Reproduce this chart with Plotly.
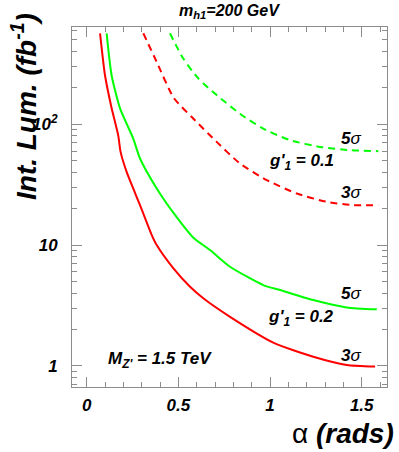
import math
import plotly.graph_objects as go

# 3 sigma / 5 sigma discovery curves, g'1 = 0.2 (solid) and g'1 = 0.1 (dashed)
alpha_3s_02 = [0.073, 0.100, 0.136, 0.172, 0.185, 0.218, 0.291, 0.355, 0.382, 0.472,
               0.564, 0.636, 0.782, 1.018, 1.236, 1.418, 1.573]
lum_3s_02 = [565, 254, 136, 81, 59, 40.3, 21.4, 12.1, 10.0, 6.45,
             4.52, 3.63, 2.55, 1.56, 1.19, 1.02, 0.99]

alpha_5s_02 = [0.109, 0.136, 0.182, 0.254, 0.291, 0.382, 0.491, 0.582, 0.673, 0.782,
               0.963, 1.055, 1.236, 1.418, 1.582]
lum_5s_02 = [565, 254, 135, 76, 52, 29.4, 17.0, 11.5, 9.1, 6.62,
             4.67, 4.25, 3.51, 3.05, 2.94]

alpha_3s_01 = [0.309, 0.382, 0.475, 0.582, 0.709, 0.836, 0.982, 1.146, 1.309, 1.454, 1.591]
lum_3s_01 = [565, 327, 165, 111, 71.4, 47.3, 34.5, 26.7, 22.8, 21.4, 21.4]

alpha_5s_01 = [0.454, 0.527, 0.609, 0.709, 0.836, 0.963, 1.109, 1.273, 1.436, 1.591]
lum_5s_01 = [565, 349, 239, 174, 122, 92, 73.8, 64.9, 61, 59.8]

ytick_vals = [1, 10, 100]
ytick_text = ["1", "10", "10<sup>2</sup>"]
xtick_vals = [0, 0.5, 1, 1.5]
xtick_text = ["0", "0.5", "1", "1.5"]

RED = "#ff0000"
GREEN = "#00ff00"
GREY = "#8c8c8c"
FONT = "Liberation Sans"
bi = dict(family=FONT, weight="bold", style="italic", color="black")

fig = go.Figure()
fig.add_trace(go.Scatter(x=alpha_3s_02, y=lum_3s_02, mode="lines",
                         line=dict(color=RED, width=2, shape="spline", smoothing=0.6)))
fig.add_trace(go.Scatter(x=alpha_5s_02, y=lum_5s_02, mode="lines",
                         line=dict(color=GREEN, width=2, shape="spline", smoothing=0.6)))
fig.add_trace(go.Scatter(x=alpha_3s_01, y=lum_3s_01, mode="lines",
                         line=dict(color=RED, width=2, dash="7px,5px", shape="spline", smoothing=0.6)))
fig.add_trace(go.Scatter(x=alpha_5s_01, y=lum_5s_01, mode="lines",
                         line=dict(color=GREEN, width=2, dash="7px,5px", shape="spline", smoothing=0.6)))

minor_y = [0.7, 0.8, 0.9] + [v * m for m in (1, 10) for v in range(2, 10)] + [200, 300, 400, 500, 600]

W, H, L, R, T, B = 399, 452, 72, 12, 27, 65

fig.update_layout(
    width=W, height=H,
    margin=dict(l=L, r=R, t=T, b=B),
    paper_bgcolor="white", plot_bgcolor="white",
    showlegend=False,
    font=dict(family=FONT, size=17, color="black"),
    xaxis=dict(range=[-0.080, 1.638], showgrid=False, zeroline=False,
               showline=True, linecolor=GREY, linewidth=1, mirror="ticks",
               ticks="inside", ticklen=10, tickcolor=GREY,
               tickvals=xtick_vals, ticktext=xtick_text,
               tickfont=dict(size=17, **bi), ticklabelstandoff=3,
               minor=dict(ticks="inside", ticklen=5, tickcolor=GREY, dtick=0.1, showgrid=False)),
    yaxis=dict(type="log", range=[-0.174, 2.804], showgrid=False, zeroline=False,
               showline=True, linecolor=GREY, linewidth=1, mirror="ticks",
               ticks="inside", ticklen=10, tickcolor=GREY,
               tickvals=ytick_vals, ticktext=ytick_text,
               tickfont=dict(size=17, **bi), ticklabelstandoff=10,
               minor=dict(ticks="inside", ticklen=5, tickcolor=GREY, tickvals=minor_y, showgrid=False)),
)

sig = "<span style='font-weight:normal'>σ</span>"
notes = [
    (1.44, 76.6, "5" + sig),
    (1.17, 48.5, "g'<sub>1</sub> = 0.1"),
    (1.44, 27.4, "3" + sig),
    (1.44, 4.0, "5" + sig),
    (1.17, 2.49, "g'<sub>1</sub> = 0.2"),
    (1.44, 1.23, "3" + sig),
    (0.40, 1.12, "M<sub>Z'</sub> = 1.5 TeV"),
]
for x, y, t in notes:
    fig.add_annotation(x=x, y=math.log10(y), xref="x", yref="y", text=t,
                       xanchor="center", yanchor="middle",
                       showarrow=False, font=dict(size=17, **bi))


def px(x, y):
    return (x - L) / (W - L - R), 1 - (y - T) / (H - T - B)


tx, ty = px(229, 12)
fig.add_annotation(x=tx, y=ty, xref="paper", yref="paper", text="m<sub>h1</sub>=200 GeV",
                   xanchor="center", yanchor="middle",
                   showarrow=False, font=dict(size=16, **bi))
tx, ty = px(396, 433)
fig.add_annotation(x=tx, y=ty, xref="paper", yref="paper",
                   text="<span style='font-weight:normal;font-style:normal'>α</span> (rads)",
                   xanchor="right", yanchor="middle", showarrow=False, font=dict(size=28, **bi))
tx, ty = px(24, 107)
fig.add_annotation(x=tx, y=ty, xref="paper", yref="paper", text="Int. Lum. (fb<sup>-1</sup>)",
                   xanchor="center", yanchor="middle",
                   textangle=-90, showarrow=False, font=dict(size=28, **bi))

fig.write_html("out.html", config={"displayModeBar": False},
               post_script="document.body.style.margin='0';")
